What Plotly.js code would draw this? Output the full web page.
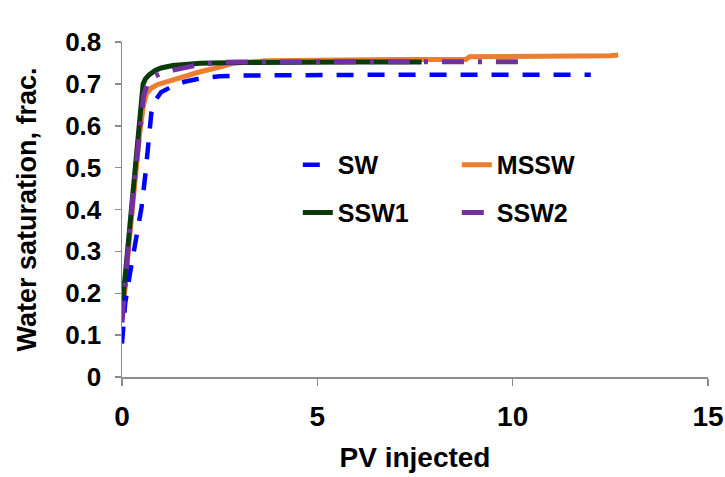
<!DOCTYPE html>
<html>
<head>
<meta charset="utf-8">
<script src="https://cdn.plot.ly/plotly-3.0.1.min.js"></script>
<style>html,body{margin:0;padding:0;background:#fff;}#chart{width:725px;height:477px;}</style>
</head>
<body>
<div id="chart"></div>
<script>
// Series names
const seriesNames = ["SW", "MSSW", "SSW1", "SSW2"];

// SW
const swX = [0, 0.08, 0.2, 0.37, 0.5, 0.6, 0.68, 0.75, 0.85, 1.0, 1.3, 1.6, 2.0, 2.5, 3, 4, 5, 6, 7, 8, 9, 10, 11, 12];
const swY = [0.08, 0.175, 0.245, 0.33, 0.405, 0.485, 0.56, 0.63, 0.66, 0.68, 0.695, 0.705, 0.713, 0.718, 0.72, 0.721, 0.722, 0.722, 0.722, 0.722, 0.722, 0.722, 0.722, 0.722];

// MSSW
const msswX = [0, 0.05, 0.15, 0.3, 0.45, 0.55, 0.63, 0.75, 0.9, 1.14, 1.5, 2.0, 2.5, 2.84, 3.7, 5, 6, 7, 8, 8.8, 8.9, 10, 11, 12, 12.5, 12.7];
const msswY = [0.14, 0.18, 0.29, 0.44, 0.58, 0.65, 0.677, 0.69, 0.698, 0.705, 0.716, 0.729, 0.74, 0.749, 0.755, 0.757, 0.757, 0.758, 0.758, 0.758, 0.765, 0.765, 0.766, 0.766, 0.767, 0.769];

// SSW1
const ssw1X = [0, 0.03, 0.15, 0.3, 0.45, 0.54, 0.6, 0.7, 0.85, 1.0, 1.3, 1.6, 2.0, 3, 4, 5, 6, 7, 7.67];
const ssw1Y = [0.17, 0.19, 0.31, 0.46, 0.62, 0.70, 0.712, 0.722, 0.732, 0.738, 0.744, 0.747, 0.749, 0.751, 0.752, 0.752, 0.752, 0.752, 0.752];

// SSW2
const ssw2X = [0, 0.03, 0.15, 0.3, 0.45, 0.55, 0.65, 0.8, 1.0, 1.31, 1.83, 2.42, 3, 4, 5, 6, 7, 8, 9, 10, 10.24];
const ssw2Y = [0.13, 0.17, 0.30, 0.45, 0.60, 0.67, 0.70, 0.717, 0.725, 0.733, 0.743, 0.751, 0.752, 0.753, 0.753, 0.753, 0.753, 0.753, 0.753, 0.753, 0.753];

// Axis ticks
const xTicks = [0, 5, 10, 15];
const yTicks = [0, 0.1, 0.2, 0.3, 0.4, 0.5, 0.6, 0.7, 0.8];

const FONT = "Liberation Sans, Arial, sans-serif";
const bold = (s) => ({family: FONT, size: s, color: "#000", weight: "bold"});

const traces = [
  {x: msswX, y: msswY, name: seriesNames[1], mode: "lines", legend: "legend", legendrank: 2,
   line: {color: "#ED7D31", width: 5}},
  {x: ssw1X, y: ssw1Y, name: seriesNames[2], mode: "lines", legend: "legend2", legendrank: 1,
   line: {color: "#0B3B0B", width: 5}},
  {x: swX, y: swY, name: seriesNames[0], mode: "lines", legend: "legend", legendrank: 1,
   line: {color: "#0000FF", width: 4.5, dash: "17px,14px"}},
  {x: ssw2X, y: ssw2Y, name: seriesNames[3], mode: "lines", legend: "legend2", legendrank: 2,
   line: {color: "#7030A0", width: 5, dash: "22px,14px,4px,14px"}}
];

const axisCommon = {
  showgrid: false, zeroline: false, showline: true, linecolor: "#8c8c8c", linewidth: 1.5,
  ticks: "outside", tickcolor: "#8c8c8c", tickwidth: 1.5, ticklen: 6
};

const legendCommon = {
  orientation: "h", xanchor: "left", yanchor: "middle", entrywidthmode: "pixels", entrywidth: 114,
  font: bold(25), bgcolor: "rgba(0,0,0,0)", borderwidth: 0
};

const layout = {
  width: 725, height: 477,
  margin: {l: 122, r: 17, t: 42, b: 100},
  paper_bgcolor: "#fff", plot_bgcolor: "#fff",
  showlegend: true,
  xaxis: Object.assign({}, axisCommon, {
    range: [0, 15], tickvals: xTicks, ticktext: xTicks.map(String), ticklen: 7, ticklabelstandoff: 7,
    tickfont: bold(28),
    title: {text: "PV injected", font: bold(28), standoff: 16}
  }),
  yaxis: Object.assign({}, axisCommon, {
    range: [0, 0.8], tickvals: yTicks, ticktext: yTicks.map(String), ticklabelstandoff: 8,
    tickfont: bold(26),
    title: {text: "Water saturation, frac.", font: bold(27), standoff: 20}
  }),
  legend: Object.assign({}, legendCommon, {x: 0.30, y: 0.633}),
  legend2: Object.assign({}, legendCommon, {x: 0.30, y: 0.49})
};

Plotly.newPlot("chart", traces, layout, {displayModeBar: false, staticPlot: true});
</script>
</body>
</html>
